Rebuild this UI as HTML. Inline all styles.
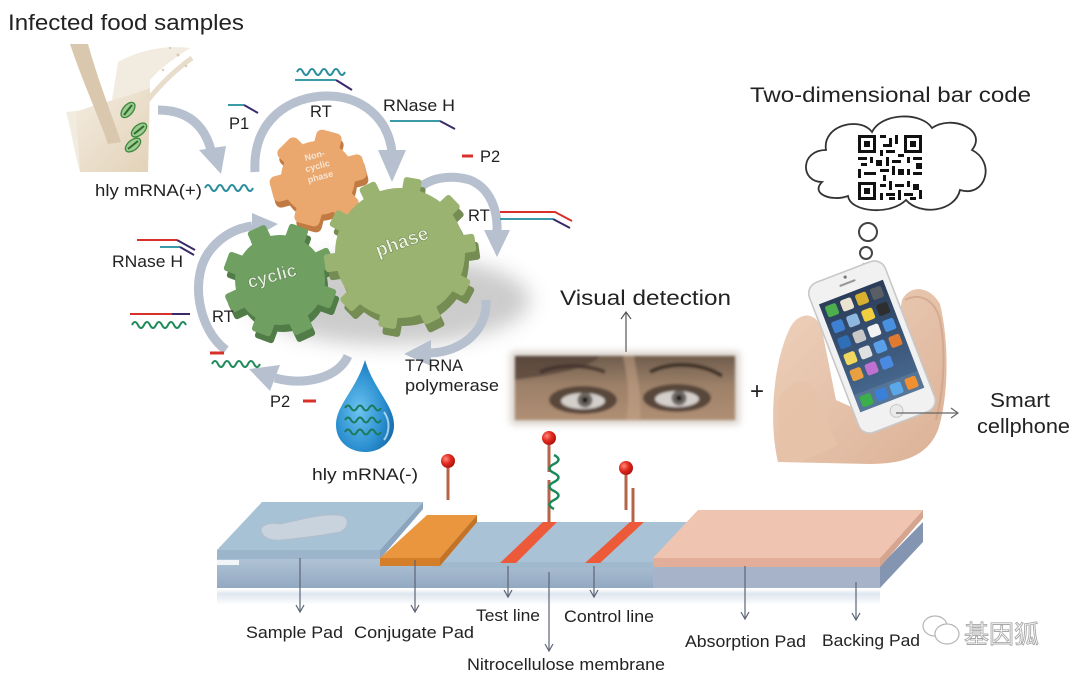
<!DOCTYPE html>
<html><head><meta charset="utf-8">
<style>
html,body{margin:0;padding:0;background:#fff;}
svg{display:block;}
text{font-family:"Liberation Sans",Arial,sans-serif;fill:#222;}
</style></head>
<body>
<svg width="1080" height="682" viewBox="0 0 1080 682" xmlns="http://www.w3.org/2000/svg">
<defs>
  <filter id="blur8" x="-50%" y="-50%" width="200%" height="200%"><feGaussianBlur stdDeviation="10"/></filter>
  <filter id="blur2" x="-10%" y="-10%" width="120%" height="120%"><feGaussianBlur stdDeviation="1.2"/></filter>
  <filter id="blur4" x="-20%" y="-20%" width="140%" height="140%"><feGaussianBlur stdDeviation="4"/></filter>
  <radialGradient id="ball" cx="0.35" cy="0.35" r="0.7"><stop offset="0" stop-color="#ff8a7a"/><stop offset="0.5" stop-color="#e22a1f"/><stop offset="1" stop-color="#a8120c"/></radialGradient>
  <radialGradient id="drop" cx="0.4" cy="0.55" r="0.7"><stop offset="0" stop-color="#6cc3f0"/><stop offset="0.6" stop-color="#2b8fd0"/><stop offset="1" stop-color="#12609f"/></radialGradient>
  <linearGradient id="milk" x1="0" y1="0" x2="1" y2="1"><stop offset="0" stop-color="#f4ece0"/><stop offset="1" stop-color="#e2d2b8"/></linearGradient>
  <linearGradient id="eyes" x1="0" y1="0" x2="0" y2="1"><stop offset="0" stop-color="#6f5c4c"/><stop offset="0.45" stop-color="#9c8068"/><stop offset="1" stop-color="#b08f74"/></linearGradient>
  <linearGradient id="front" x1="0" y1="0" x2="0" y2="1"><stop offset="0" stop-color="#b3c6d8"/><stop offset="1" stop-color="#93a9c2"/></linearGradient>
  <linearGradient id="refl" x1="0" y1="0" x2="0" y2="1"><stop offset="0" stop-color="#ffffff"/><stop offset="0.3" stop-color="#dfe6ef"/><stop offset="1" stop-color="#ffffff"/></linearGradient>
  <linearGradient id="screen" x1="0" y1="0" x2="0" y2="1"><stop offset="0" stop-color="#2a3c58"/><stop offset="1" stop-color="#4a6d95"/></linearGradient>
  <linearGradient id="skin" x1="0" y1="0" x2="1" y2="1"><stop offset="0" stop-color="#efd2bd"/><stop offset="1" stop-color="#dbb196"/></linearGradient>
</defs>

<!-- Title -->
<text x="8" y="30" font-size="22" textLength="236" lengthAdjust="spacingAndGlyphs">Infected food samples</text>

<!-- Milk glass -->
<path d="M118,62 C140,50 165,45 190,48 C175,58 160,68 150,80 L148,172 L80,172 C74,150 70,125 66,112 C85,110 100,108 112,100 Z" fill="#f2ebe0"/>
<path d="M76,112 C95,104 125,98 150,88 L148,172 L80,172 Z" fill="url(#milk)"/>
<path d="M70,44 L88,44 C98,80 110,110 121,142 L108,144 C96,110 82,80 70,44 Z" fill="#d9c8ad"/>
<path d="M148,100 C160,85 175,70 192,58" stroke="#e8dccb" stroke-width="5" fill="none"/>
<circle cx="178" cy="55" r="1.5" fill="#d8ccb8"/><circle cx="186" cy="66" r="1.2" fill="#d8ccb8"/><circle cx="170" cy="48" r="1.2" fill="#d8ccb8"/><circle cx="163" cy="70" r="1.2" fill="#d8ccb8"/>
<g stroke="#3b8a3b" stroke-width="1.3" fill="#9fca92">
  <ellipse cx="128" cy="110" rx="9" ry="5" transform="rotate(-50 128 110)"/>
  <ellipse cx="139" cy="130" rx="9" ry="5" transform="rotate(-40 139 130)"/>
  <ellipse cx="133" cy="145" rx="9" ry="5" transform="rotate(-40 133 145)"/>
</g>
<g stroke="#2d6e2d" stroke-width="2"><line x1="124" y1="115" x2="132" y2="105"/><line x1="134" y1="134" x2="144" y2="126"/><line x1="128" y1="149" x2="138" y2="141"/></g>

<!-- Gear shadow -->
<ellipse cx="390" cy="300" rx="140" ry="45" fill="#8f8f8f" opacity="0.45" filter="url(#blur8)"/>

<!-- Cycle arrows -->
<g stroke="#b7c0cf" stroke-width="9" fill="none" stroke-linecap="butt">
  <path d="M158,110 Q200,110 211,150"/>
  <path d="M255,172 C252,120 290,96 327,96 C362,96 388,118 392,152"/>
  <path d="M418,190 C428,178 450,174 470,180 C490,188 498,210 497,232"/>
  <path d="M486,300 C488,330 462,352 430,353"/>
  <path d="M348,356 C338,378 305,386 275,378"/>
  <path d="M226,350 C198,330 188,275 212,248 C224,234 238,228 252,226"/>
</g>
<g fill="#b7c0cf">
  <polygon points="199,150 226,146 221,174"/>
  <polygon points="378,150 406,150 392,182"/>
  <polygon points="484,230 510,230 497,257"/>
  <polygon points="431,340 431,366 404,354"/>
  <polygon points="280,365 270,391 249,369"/>
  <polygon points="252,213 252,239 278,224"/>
</g>

<!-- Orange gear -->
<g transform="translate(2,6)" fill="#c07a42">
  <circle cx="318" cy="178" r="37"/>
  <rect x="305" y="130" width="26" height="22" rx="6" transform="rotate(15 318 178)"/>
  <rect x="305" y="130" width="26" height="22" rx="6" transform="rotate(75 318 178)"/>
  <rect x="305" y="130" width="26" height="22" rx="6" transform="rotate(135 318 178)"/>
  <rect x="305" y="130" width="26" height="22" rx="6" transform="rotate(195 318 178)"/>
  <rect x="305" y="130" width="26" height="22" rx="6" transform="rotate(255 318 178)"/>
  <rect x="305" y="130" width="26" height="22" rx="6" transform="rotate(315 318 178)"/>
</g>
<g fill="#eaa76e">
  <circle cx="318" cy="178" r="37"/>
  <rect x="305" y="130" width="26" height="22" rx="6" transform="rotate(15 318 178)"/>
  <rect x="305" y="130" width="26" height="22" rx="6" transform="rotate(75 318 178)"/>
  <rect x="305" y="130" width="26" height="22" rx="6" transform="rotate(135 318 178)"/>
  <rect x="305" y="130" width="26" height="22" rx="6" transform="rotate(195 318 178)"/>
  <rect x="305" y="130" width="26" height="22" rx="6" transform="rotate(255 318 178)"/>
  <rect x="305" y="130" width="26" height="22" rx="6" transform="rotate(315 318 178)"/>
</g>
<g transform="rotate(-15 318 168)" font-size="9" text-anchor="middle" font-weight="bold">
  <text x="318" y="158" style="fill:#f6e6d4">Non-</text>
  <text x="318" y="169" style="fill:#f6e6d4">cyclic</text>
  <text x="318" y="180" style="fill:#f6e6d4">phase</text>
</g>

<!-- Small cyclic gear -->
<g transform="translate(3,7)" fill="#527c47">
  <circle cx="280" cy="280" r="45"/>
  <rect x="270" y="223" width="20" height="20" rx="3" transform="rotate(20 280 280)"/>
  <rect x="270" y="223" width="20" height="20" rx="3" transform="rotate(65 280 280)"/>
  <rect x="270" y="223" width="20" height="20" rx="3" transform="rotate(110 280 280)"/>
  <rect x="270" y="223" width="20" height="20" rx="3" transform="rotate(155 280 280)"/>
  <rect x="270" y="223" width="20" height="20" rx="3" transform="rotate(200 280 280)"/>
  <rect x="270" y="223" width="20" height="20" rx="3" transform="rotate(245 280 280)"/>
  <rect x="270" y="223" width="20" height="20" rx="3" transform="rotate(290 280 280)"/>
  <rect x="270" y="223" width="20" height="20" rx="3" transform="rotate(335 280 280)"/>
</g>
<g fill="#6fa062">
  <circle cx="280" cy="280" r="45"/>
  <rect x="270" y="223" width="20" height="20" rx="3" transform="rotate(20 280 280)"/>
  <rect x="270" y="223" width="20" height="20" rx="3" transform="rotate(65 280 280)"/>
  <rect x="270" y="223" width="20" height="20" rx="3" transform="rotate(110 280 280)"/>
  <rect x="270" y="223" width="20" height="20" rx="3" transform="rotate(155 280 280)"/>
  <rect x="270" y="223" width="20" height="20" rx="3" transform="rotate(200 280 280)"/>
  <rect x="270" y="223" width="20" height="20" rx="3" transform="rotate(245 280 280)"/>
  <rect x="270" y="223" width="20" height="20" rx="3" transform="rotate(290 280 280)"/>
  <rect x="270" y="223" width="20" height="20" rx="3" transform="rotate(335 280 280)"/>
</g>
<text x="272" y="282" font-size="18" font-weight="bold" text-anchor="middle" transform="rotate(-15 272 276)" style="fill:#e6efe0" stroke="#55784a" stroke-width="0.5">cyclic</text>

<!-- Big phase gear -->
<g transform="translate(4,8)" fill="#758c52">
  <circle cx="400" cy="253" r="65"/>
  <rect x="391" y="177" width="18" height="20" rx="3" transform="rotate(10 400 253)"/>
  <rect x="391" y="177" width="18" height="20" rx="3" transform="rotate(46 400 253)"/>
  <rect x="391" y="177" width="18" height="20" rx="3" transform="rotate(82 400 253)"/>
  <rect x="391" y="177" width="18" height="20" rx="3" transform="rotate(118 400 253)"/>
  <rect x="391" y="177" width="18" height="20" rx="3" transform="rotate(154 400 253)"/>
  <rect x="391" y="177" width="18" height="20" rx="3" transform="rotate(190 400 253)"/>
  <rect x="391" y="177" width="18" height="20" rx="3" transform="rotate(226 400 253)"/>
  <rect x="391" y="177" width="18" height="20" rx="3" transform="rotate(262 400 253)"/>
  <rect x="391" y="177" width="18" height="20" rx="3" transform="rotate(298 400 253)"/>
  <rect x="391" y="177" width="18" height="20" rx="3" transform="rotate(334 400 253)"/>
</g>
<g fill="#9ab371">
  <circle cx="400" cy="253" r="65"/>
  <rect x="391" y="177" width="18" height="20" rx="3" transform="rotate(10 400 253)"/>
  <rect x="391" y="177" width="18" height="20" rx="3" transform="rotate(46 400 253)"/>
  <rect x="391" y="177" width="18" height="20" rx="3" transform="rotate(82 400 253)"/>
  <rect x="391" y="177" width="18" height="20" rx="3" transform="rotate(118 400 253)"/>
  <rect x="391" y="177" width="18" height="20" rx="3" transform="rotate(154 400 253)"/>
  <rect x="391" y="177" width="18" height="20" rx="3" transform="rotate(190 400 253)"/>
  <rect x="391" y="177" width="18" height="20" rx="3" transform="rotate(226 400 253)"/>
  <rect x="391" y="177" width="18" height="20" rx="3" transform="rotate(262 400 253)"/>
  <rect x="391" y="177" width="18" height="20" rx="3" transform="rotate(298 400 253)"/>
  <rect x="391" y="177" width="18" height="20" rx="3" transform="rotate(334 400 253)"/>
</g>
<text x="402" y="248" font-size="19" font-weight="bold" text-anchor="middle" transform="rotate(-20 402 242)" style="fill:#eef3e6" stroke="#6b8448" stroke-width="0.5">phase</text>

<!-- Strands & labels of the cycle -->
<g fill="none" stroke-width="2">
  <path d="M205,188 q3,-6 6,0 t6,0 t6,0 t6,0 t6,0 t6,0 t6,0 t6,0" stroke="#2a8d9c"/>
  <path d="M297,72 q3,-6 6,0 t6,0 t6,0 t6,0 t6,0 t6,0 t6,0 t6,0" stroke="#2a8d9c"/>
  <path d="M295,80 L336,80" stroke="#3a9aa8"/><path d="M336,80 L352,90" stroke="#3a2a6a"/>
  <path d="M228,105 L244,105" stroke="#3a9aa8"/><path d="M244,105 L258,113" stroke="#3a2a6a"/>
  <path d="M390,121 L440,121" stroke="#3a9aa8"/><path d="M440,121 L455,129" stroke="#3a2a6a"/>
  <path d="M500,212 L555,212 L572,221" stroke="#d8302a"/>
  <path d="M500,219 L553,219" stroke="#3a9aa8"/><path d="M553,219 L570,228" stroke="#3a2a6a"/>
  <path d="M137,240 L177,240" stroke="#d8302a"/><path d="M177,240 L195,250" stroke="#3a2a6a"/>
  <path d="M160,247 L180,247" stroke="#3a9aa8"/><path d="M180,247 L194,255" stroke="#3a2a6a"/>
  <path d="M130,314 L172,314" stroke="#d8302a"/><path d="M172,314 L190,314" stroke="#3a2a6a"/>
  <path d="M132,325 q3,-6 6,0 t6,0 t6,0 t6,0 t6,0 t6,0 t6,0 t6,0 t6,0" stroke="#1f8a5a"/>
  <path d="M212,364 q3,-6 6,0 t6,0 t6,0 t6,0 t6,0 t6,0 t6,0 t6,0" stroke="#1f8a5a"/>
</g>
<g stroke="#d8302a" stroke-width="3">
  <line x1="462" y1="156" x2="473" y2="156"/>
  <line x1="210" y1="353" x2="224" y2="353"/>
  <line x1="303" y1="401" x2="316" y2="401"/>
</g>
<g font-size="16.5">
  <text x="95" y="196" textLength="107" lengthAdjust="spacingAndGlyphs">hly mRNA(+)</text>
  <text x="229" y="129">P1</text>
  <text x="310" y="117">RT</text>
  <text x="383" y="111" textLength="72" lengthAdjust="spacingAndGlyphs">RNase H</text>
  <text x="480" y="162">P2</text>
  <text x="468" y="221">RT</text>
  <text x="112" y="267" textLength="71" lengthAdjust="spacingAndGlyphs">RNase H</text>
  <text x="212" y="322">RT</text>
  <text x="405" y="371" textLength="58" lengthAdjust="spacingAndGlyphs">T7 RNA</text>
  <text x="405" y="391" textLength="94" lengthAdjust="spacingAndGlyphs">polymerase</text>
  <text x="270" y="407">P2</text>
  <text x="312" y="480" textLength="106" lengthAdjust="spacingAndGlyphs">hly mRNA(-)</text>
</g>

<!-- Water drop -->
<path d="M365,360 C356,390 336,405 336,425 C336,442 350,452 365,452 C380,452 394,442 394,425 C394,405 374,390 365,360 Z" fill="url(#drop)"/>
<g fill="none" stroke="#1b7a5a" stroke-width="2">
  <path d="M345,408 q3,-5 6,0 t6,0 t6,0 t6,0 t6,0 t6,0"/>
  <path d="M345,420 q3,-5 6,0 t6,0 t6,0 t6,0 t6,0 t6,0"/>
  <path d="M345,432 q3,-5 6,0 t6,0 t6,0 t6,0 t6,0 t6,0"/>
</g>
<path d="M384,412 C390,420 390,432 384,440" stroke="#bfe6fa" stroke-width="2" fill="none" opacity="0.8"/>

<!-- Visual detection -->
<text x="560" y="305" font-size="21" textLength="171" lengthAdjust="spacingAndGlyphs">Visual detection</text>
<g stroke="#555" stroke-width="1.2" fill="none"><line x1="626" y1="352" x2="626" y2="312"/><polyline points="621,319 626,312 631,319"/></g>

<!-- Eyes photo -->
<rect x="511" y="352" width="228" height="72" fill="#a89888" opacity="0.5" filter="url(#blur4)"/>
<g filter="url(#blur2)">
  <rect x="515" y="356" width="220" height="64" fill="url(#eyes)"/>
  <path d="M515,356 L600,356 C590,368 560,374 515,380 Z" fill="#4e3e34" opacity="0.65"/>
  <path d="M650,372 C670,362 700,362 722,376" stroke="#3e3028" stroke-width="4" fill="none"/>
  <path d="M540,372 C560,364 585,364 605,372" stroke="#3e3028" stroke-width="4" fill="none" opacity="0.8"/>
  <ellipse cx="583" cy="400" rx="34" ry="14" fill="#4c3c32" opacity="0.85"/>
  <ellipse cx="677" cy="398" rx="34" ry="14" fill="#4c3c32" opacity="0.85"/>
  <ellipse cx="583" cy="401" rx="22" ry="8" fill="#d4cfca"/>
  <ellipse cx="677" cy="399" rx="22" ry="8" fill="#d4cfca"/>
  <circle cx="585" cy="400" r="7.5" fill="#6c6660"/><circle cx="585" cy="400" r="3" fill="#1e1a18"/>
  <circle cx="679" cy="398" r="7.5" fill="#6c6660"/><circle cx="679" cy="398" r="3" fill="#1e1a18"/>
  <path d="M623,356 C628,380 630,400 626,420 L640,420 C642,400 638,380 634,356 Z" fill="#c7a68a" opacity="0.5"/>
</g>

<text x="750" y="399" font-size="24">+</text>

<!-- Cloud with QR -->
<path d="M822,182 C800,182 800,150 826,150 C822,125 860,116 872,132 C882,112 922,112 932,128 C952,114 988,130 972,150 C996,162 986,198 960,190 C955,212 920,216 906,200 C890,216 850,212 848,196 C832,202 810,194 822,182 Z" fill="#fff" stroke="#333" stroke-width="1.8"/>
<g fill="#111">
  <rect x="858" y="135" width="18" height="18"/><rect x="861" y="138" width="12" height="12" fill="#fff"/><rect x="864" y="141" width="6" height="6"/>
  <rect x="904" y="135" width="18" height="18"/><rect x="907" y="138" width="12" height="12" fill="#fff"/><rect x="910" y="141" width="6" height="6"/>
  <rect x="858" y="182" width="18" height="18"/><rect x="861" y="185" width="12" height="12" fill="#fff"/><rect x="864" y="188" width="6" height="6"/>
  <rect x="880" y="135" width="6" height="3"/><rect x="889" y="138" width="3" height="6"/><rect x="883" y="144" width="9" height="3"/><rect x="895" y="135" width="3" height="9"/><rect x="880" y="150" width="3" height="6"/><rect x="886" y="150" width="9" height="3"/>
  <rect x="858" y="157" width="9" height="3"/><rect x="870" y="157" width="3" height="6"/><rect x="861" y="163" width="6" height="3"/><rect x="858" y="169" width="3" height="9"/><rect x="864" y="172" width="12" height="3"/><rect x="876" y="160" width="6" height="6"/>
  <rect x="886" y="157" width="3" height="9"/><rect x="892" y="160" width="9" height="3"/><rect x="898" y="154" width="6" height="3"/><rect x="907" y="157" width="3" height="6"/><rect x="913" y="157" width="9" height="3"/><rect x="916" y="163" width="6" height="6"/>
  <rect x="880" y="169" width="9" height="3"/><rect x="892" y="166" width="3" height="9"/><rect x="898" y="169" width="6" height="6"/><rect x="907" y="169" width="3" height="6"/><rect x="913" y="172" width="9" height="3"/><rect x="883" y="175" width="3" height="6"/>
  <rect x="880" y="184" width="6" height="3"/><rect x="889" y="181" width="3" height="9"/><rect x="895" y="184" width="9" height="3"/><rect x="907" y="181" width="3" height="6"/><rect x="913" y="184" width="6" height="6"/><rect x="919" y="190" width="3" height="9"/>
  <rect x="880" y="193" width="3" height="7"/><rect x="886" y="193" width="9" height="3"/><rect x="898" y="190" width="3" height="10"/><rect x="904" y="193" width="9" height="3"/><rect x="910" y="197" width="6" height="3"/><rect x="889" y="197" width="6" height="3"/>
</g>
<text x="750" y="102" font-size="21" textLength="281" lengthAdjust="spacingAndGlyphs">Two-dimensional bar code</text>
<g fill="#fff" stroke="#444" stroke-width="2"><circle cx="868" cy="232" r="9"/><circle cx="866" cy="253" r="6"/><circle cx="865" cy="268" r="4"/></g>

<!-- Hand & phone -->
<path d="M778,462 C768,420 774,360 790,328 C798,312 816,310 822,330 L836,400 L880,420 L902,300 C910,284 930,286 940,304 C950,345 948,400 938,430 C928,455 905,464 870,464 Z" fill="url(#skin)"/>
<path d="M905,300 C920,292 935,300 940,320 C946,350 944,390 936,420" stroke="#c99c82" stroke-width="2" fill="none" opacity="0.6"/>
<g transform="rotate(-21 872 347) translate(872 347) scale(1.07) translate(-872 -347)">
  <rect x="834" y="272" width="76" height="150" rx="11" fill="#f1f1f1" stroke="#c8c8c8" stroke-width="1.5"/>
  <rect x="840" y="292" width="64" height="108" fill="url(#screen)"/>
  <rect x="864" y="282" width="16" height="2" rx="1" fill="#999"/>
  <circle cx="872" cy="277" r="1.5" fill="#777"/>
  <circle cx="872" cy="411" r="6" fill="#eaeaea" stroke="#c8c8c8"/>
  <g>
    <rect x="844" y="296" width="11" height="11" rx="2" fill="#4cae4c"/><rect x="859" y="296" width="11" height="11" rx="2" fill="#e9e3d0"/><rect x="874" y="296" width="11" height="11" rx="2" fill="#d7b030"/><rect x="889" y="296" width="11" height="11" rx="2" fill="#5a5f66"/>
    <rect x="844" y="312" width="11" height="11" rx="2" fill="#3d7fd0"/><rect x="859" y="312" width="11" height="11" rx="2" fill="#8fb8e0"/><rect x="874" y="312" width="11" height="11" rx="2" fill="#f0d040"/><rect x="889" y="312" width="11" height="11" rx="2" fill="#2e2e30"/>
    <rect x="844" y="328" width="11" height="11" rx="2" fill="#2f6fb8"/><rect x="859" y="328" width="11" height="11" rx="2" fill="#c8c8c8"/><rect x="874" y="328" width="11" height="11" rx="2" fill="#f2f2f2"/><rect x="889" y="328" width="11" height="11" rx="2" fill="#4a90e0"/>
    <rect x="844" y="344" width="11" height="11" rx="2" fill="#f0d860"/><rect x="859" y="344" width="11" height="11" rx="2" fill="#e0e0e0"/><rect x="874" y="344" width="11" height="11" rx="2" fill="#5aa0e8"/><rect x="889" y="344" width="11" height="11" rx="2" fill="#e07a30"/>
    <rect x="844" y="360" width="11" height="11" rx="2" fill="#e8a040"/><rect x="859" y="360" width="11" height="11" rx="2" fill="#c070d0"/><rect x="874" y="360" width="11" height="11" rx="2" fill="#4a8ae0"/>
    <rect x="840" y="383" width="64" height="17" fill="#5a7898" opacity="0.8"/>
    <rect x="844" y="386" width="11" height="11" rx="2" fill="#3cae4a"/><rect x="859" y="386" width="11" height="11" rx="2" fill="#3a80d8"/><rect x="874" y="386" width="11" height="11" rx="2" fill="#5aa8e8"/><rect x="889" y="386" width="11" height="11" rx="2" fill="#f09030"/>
  </g>
</g>
<path d="M778,400 C790,380 805,375 815,390 C822,410 830,430 838,445 L800,462 L780,462 Z" fill="#e6c2a9" opacity="0.9"/>
<g stroke="#666" stroke-width="1.2" fill="none"><line x1="896" y1="413" x2="958" y2="413"/><polyline points="951,408 958,413 951,418"/></g>
<text x="990" y="407" font-size="20" textLength="60" lengthAdjust="spacingAndGlyphs">Smart</text>
<text x="977" y="433" font-size="20" textLength="93" lengthAdjust="spacingAndGlyphs">cellphone</text>

<!-- Lateral flow strip -->
<rect x="217" y="589" width="663" height="16" fill="url(#refl)"/>
<rect x="217" y="555" width="663" height="33" fill="url(#front)"/>
<rect x="217" y="560" width="22" height="5" fill="#f2f5f8"/>
<rect x="653" y="566" width="227" height="22" fill="#a7b3c8"/>
<polygon points="880,566 923,522 923,542 880,588" fill="#8495b2"/>
<polygon points="470,522 705,522 668,562 433,562" fill="#a9c2d5"/>
<rect x="433" y="562" width="235" height="6" fill="#a0b9cd"/>
<polygon points="262,502 423,502 380,550 217,550" fill="#a8c2d5"/>
<rect x="217" y="550" width="163" height="9" fill="#9cb5ca"/>
<polygon points="423,502 423,509 380,559 380,550" fill="#8aa5bd"/>
<path d="M262,533 C258,526 268,522 280,524 C300,520 325,512 343,516 C350,520 348,528 340,532 C320,536 300,538 282,540 C272,541 264,538 262,533 Z" fill="#c9d3dd" stroke="#b2bfcc" stroke-width="1"/>
<polygon points="427,515 477,515 440,558 380,558" fill="#ea963f"/>
<rect x="380" y="558" width="60" height="8" fill="#d47e2a"/>
<polygon points="477,515 477,522 440,566 440,558" fill="#c47326"/>
<polygon points="543,522 557,522 516,563 500,563" fill="#ec5a3a"/>
<polygon points="630,522 644,522 600,563 585,563" fill="#ec5a3a"/>
<polygon points="698,510 923,510 880,558 653,558" fill="#efc5b1"/>
<rect x="653" y="558" width="227" height="9" fill="#e2ae99"/>
<polygon points="923,510 923,518 880,567 880,558" fill="#d6a590"/>

<!-- probes -->
<g stroke="#b5644a" stroke-width="3">
  <line x1="448" y1="468" x2="448" y2="500"/>
  <line x1="549" y1="445" x2="549" y2="472"/>
  <line x1="549" y1="480" x2="549" y2="522"/>
  <line x1="626" y1="475" x2="626" y2="510"/>
  <line x1="633" y1="488" x2="633" y2="522"/>
</g>
<path d="M554,455 q9,4.5 0,9 t0,9 t0,9 t0,9 t0,9 t0,9" stroke="#1a8a5a" stroke-width="2.5" fill="none"/>
<circle cx="448" cy="461" r="7" fill="url(#ball)"/>
<circle cx="549" cy="438" r="7" fill="url(#ball)"/>
<circle cx="626" cy="468" r="7" fill="url(#ball)"/>

<!-- bottom arrows -->
<g stroke="#5d6475" stroke-width="1.2" fill="none">
  <line x1="300" y1="558" x2="300" y2="612"/><polyline points="296,605 300,612 304,605"/>
  <line x1="415" y1="560" x2="415" y2="612"/><polyline points="411,605 415,612 419,605"/>
  <line x1="508" y1="566" x2="508" y2="597"/><polyline points="504,590 508,597 512,590"/>
  <line x1="594" y1="566" x2="594" y2="597"/><polyline points="590,590 594,597 598,590"/>
  <line x1="549" y1="572" x2="549" y2="651"/><polyline points="545,644 549,651 553,644"/>
  <line x1="745" y1="566" x2="745" y2="619"/><polyline points="741,612 745,619 749,612"/>
  <line x1="856" y1="582" x2="856" y2="620"/><polyline points="852,613 856,620 860,613"/>
</g>
<g font-size="17">
  <text x="246" y="638" textLength="97" lengthAdjust="spacingAndGlyphs">Sample Pad</text>
  <text x="354" y="638" textLength="120" lengthAdjust="spacingAndGlyphs">Conjugate Pad</text>
  <text x="476" y="621" textLength="64" lengthAdjust="spacingAndGlyphs">Test line</text>
  <text x="564" y="622" textLength="90" lengthAdjust="spacingAndGlyphs">Control line</text>
  <text x="467" y="670" textLength="198" lengthAdjust="spacingAndGlyphs">Nitrocellulose membrane</text>
  <text x="685" y="647" textLength="121" lengthAdjust="spacingAndGlyphs">Absorption Pad</text>
  <text x="822" y="646" textLength="98" lengthAdjust="spacingAndGlyphs">Backing Pad</text>
</g>

<!-- watermark -->
<g fill="#fff" stroke="#b5b5b5" stroke-width="1.2">
  <ellipse cx="935" cy="626" rx="12" ry="10"/>
  <ellipse cx="947" cy="634" rx="12" ry="10"/>
</g>
<text x="964" y="643" font-size="25" style="fill:#fff;font-family:'Noto Sans CJK SC','WenQuanYi Zen Hei',sans-serif" stroke="#a8a8a8" stroke-width="0.9">基因狐</text>
</svg>
</body></html>
